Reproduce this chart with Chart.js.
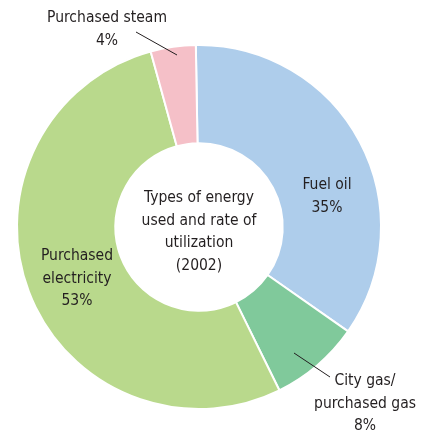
<!DOCTYPE html>
<html>
<head>
<meta charset="utf-8">
<script src="https://cdn.jsdelivr.net/npm/chart.js@4"></script>
<style>
  html, body { margin: 0; padding: 0; background: #fff; }
  #wrap { width: 429px; height: 434px; }
</style>
</head>
<body>
<div id="wrap"><canvas id="energy-chart" width="429" height="434"></canvas></div>
<script>
// Data
const energyTypes = ['Fuel oil', 'City gas/purchased gas', 'Purchased electricity', 'Purchased steam'];
const energyShares = [35, 8, 53, 4];
const sliceColors = ['#aecdeb', '#80c99b', '#b9d98c', '#f5c0c8'];
const centerTitle = ['Types of energy', 'used and rate of', 'utilization', '(2002)'];

const textFont = '15.5px "Liberation Sans Narrow", "DejaVu Sans Condensed", sans-serif';
const textColor = '#231f20';

// draws the slice labels, leader lines and centre title
const labelPlugin = {
    id: 'energyLabels',
    afterDraw(chart) {
        const ctx = chart.ctx;
        const arc = chart.getDatasetMeta(0).data[0];
        const cx = arc.x, cy = arc.y;

        ctx.save();
        ctx.font = textFont;
        ctx.fillStyle = textColor;
        ctx.textAlign = 'center';
        ctx.textBaseline = 'middle';

        function lines(arr, x, y) {
            arr.forEach((t, i) => ctx.fillText(t, x, y + i * 22.5));
        }

        // centre
        lines(centerTitle, cx, cy - 29);

        // slice labels
        lines(['Fuel oil', energyShares[0] + '%'], cx + 128, cy - 42);
        lines(['Purchased', 'electricity', energyShares[2] + '%'], cx - 122, cy + 29);
        lines(['Purchased steam', energyShares[3] + '%'], cx - 92, cy - 209);
        lines(['City gas/', 'purchased gas', energyShares[1] + '%'], cx + 166, cy + 154);

        // leader lines
        ctx.strokeStyle = '#231f20';
        ctx.lineWidth = 1;
        ctx.beginPath();
        ctx.moveTo(cx - 63, cy - 195);
        ctx.lineTo(cx - 22, cy - 172);
        ctx.moveTo(cx + 95, cy + 126);
        ctx.lineTo(cx + 131, cy + 150);
        ctx.stroke();
        ctx.restore();
    }
};

const energyChart = new Chart(document.getElementById('energy-chart').getContext('2d'), {
    type: 'doughnut',
    data: {
        labels: energyTypes,
        datasets: [{
            data: energyShares,
            backgroundColor: sliceColors,
            borderColor: '#ffffff',
            borderWidth: 2,
        }]
    },
    options: {
        responsive: false,
        animation: false,
        cutout: '46%',
        rotation: -1,
        layout: {
            padding: { left: 16, right: 47, top: 44, bottom: 24 }
        },
        plugins: {
            legend: { display: false },
            tooltip: { enabled: false }
        }
    },
    plugins: [labelPlugin]
});
</script>
</body>
</html>
